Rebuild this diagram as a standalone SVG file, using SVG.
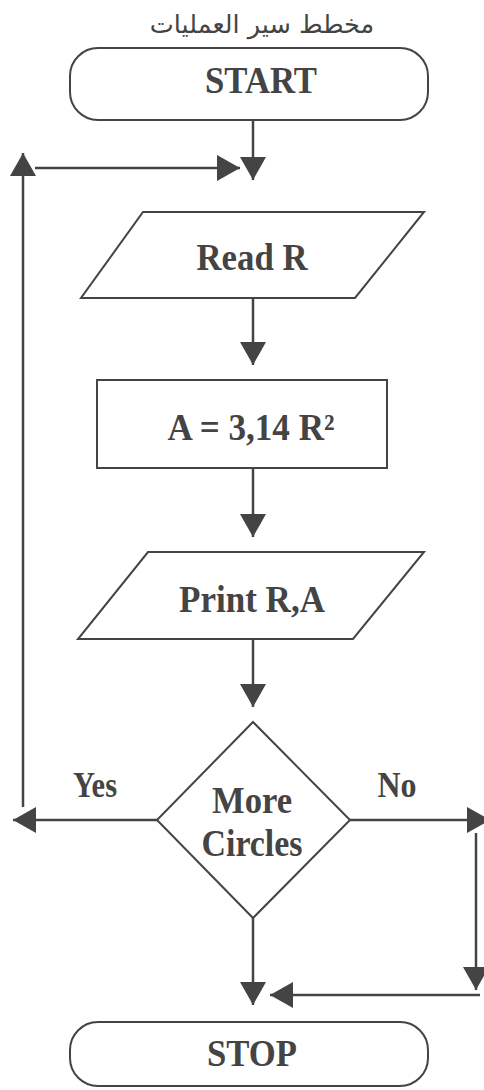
<svg xmlns="http://www.w3.org/2000/svg" width="484" height="1090" viewBox="0 0 484 1090">
<style>
.shape{fill:#fff;stroke:#444;stroke-width:2}
.lbl{font-family:"Liberation Serif","Times New Roman",serif;font-weight:bold;font-size:38px;fill:#444;text-anchor:middle}
.small{font-size:35px}
.title{font-family:"DejaVu Sans",sans-serif;font-size:25.5px;fill:#444;text-anchor:middle}
.conn line{stroke:#444;stroke-width:2.5;fill:none;marker-end:url(#ah)}
</style>
<defs>
<marker id="ah" markerUnits="userSpaceOnUse" markerWidth="24" markerHeight="26" viewBox="0 0 24 26" refX="23" refY="13" orient="auto">
<path d="M0,0 L23,13 L0,26 Z" fill="#444"/>
</marker>
</defs>
<text class="title" x="262" y="33" direction="rtl">مخطط سير العمليات</text>
<g id="start">
<rect class="shape" x="70" y="48" width="358" height="72" rx="28"/>
<text class="lbl" x="261" y="93" textLength="112" lengthAdjust="spacingAndGlyphs">START</text>
</g>
<g id="read">
<polygon class="shape" points="143,212 424,212 355,298 81,298"/>
<text class="lbl" x="252" y="270" textLength="111" lengthAdjust="spacingAndGlyphs">Read R</text>
</g>
<g id="calc">
<rect class="shape" x="97" y="380" width="290" height="88"/>
<text class="lbl" x="251" y="440" textLength="167" lengthAdjust="spacingAndGlyphs">A = 3,14 R²</text>
</g>
<g id="print">
<polygon class="shape" points="148,552 424,552 353,639 78,639"/>
<text class="lbl" x="252" y="612" textLength="146" lengthAdjust="spacingAndGlyphs">Print R,A</text>
</g>
<g id="decision">
<polygon class="shape" points="253,722 350,820 253,918 157,820"/>
<text class="lbl" x="252" y="813" textLength="80" lengthAdjust="spacingAndGlyphs">More</text>
<text class="lbl" x="252" y="856" textLength="101" lengthAdjust="spacingAndGlyphs">Circles</text>
</g>
<g id="stop">
<rect class="shape" x="70" y="1022" width="358" height="64" rx="28"/>
<text class="lbl" x="252" y="1066" textLength="90" lengthAdjust="spacingAndGlyphs">STOP</text>
</g>
<g id="connectors" class="conn">
<line x1="253" y1="120" x2="253" y2="180"/>
<line x1="23" y1="807" x2="23" y2="153"/>
<line x1="35" y1="168" x2="240" y2="168"/>
<line x1="253" y1="298" x2="253" y2="365"/>
<line x1="253" y1="468" x2="253" y2="537"/>
<line x1="253" y1="639" x2="253" y2="707"/>
<line x1="157" y1="820" x2="13" y2="820"/>
<line x1="350" y1="820" x2="490" y2="820"/>
<line x1="476" y1="833" x2="476" y2="990"/>
<line x1="480" y1="995" x2="270" y2="995"/>
<line x1="253" y1="918" x2="253" y2="1005"/>
<text class="lbl small" x="95" y="797" textLength="44" lengthAdjust="spacingAndGlyphs">Yes</text>
<text class="lbl small" x="397" y="797" textLength="39" lengthAdjust="spacingAndGlyphs">No</text>
</g>
</svg>
